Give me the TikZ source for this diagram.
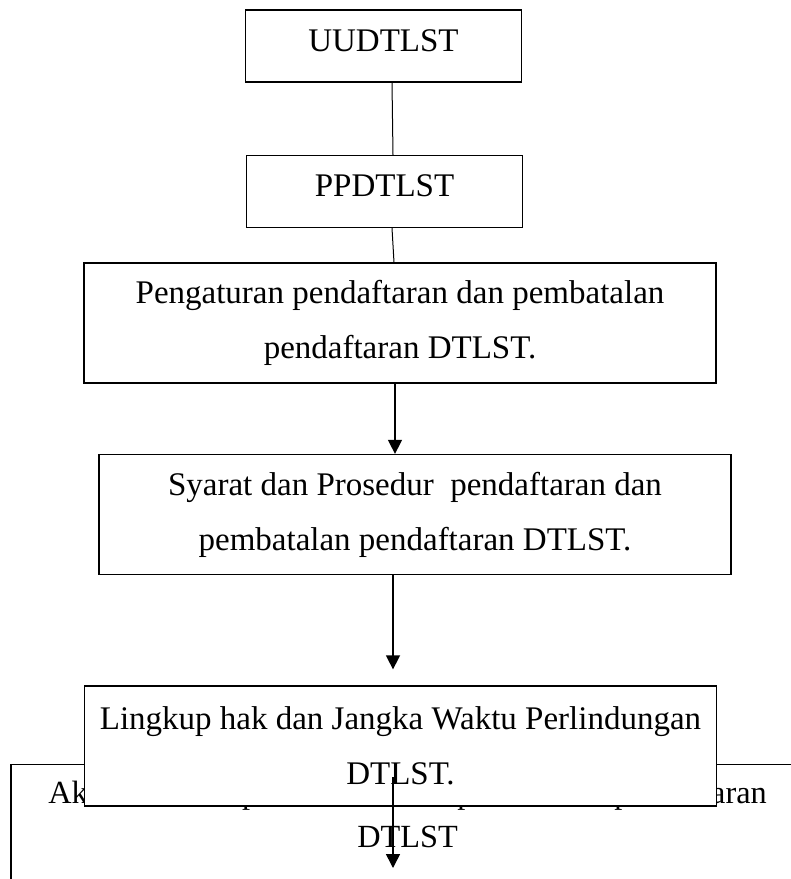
\documentclass[tikz,border=0pt]{standalone}
\usepackage{fontspec}
\setmainfont{Liberation Serif}
\usetikzlibrary{arrows.meta}

\begin{document}
\begin{tikzpicture}[x=1pt, y=-1pt,
        box_node/.style={rectangle, draw=black, fill=white, line width=1.3pt, align=center, font=\fontsize{33}{55}\selectfont},
        short_node/.style={box_node, minimum width=276pt, minimum height=72pt, text height=23pt, text depth=13pt},
        wide_node/.style={box_node, minimum width=632pt, minimum height=120pt},
        plain_line/.style={black, line width=1pt},
        arrow_line/.style={black, line width=1.5pt, -{Triangle[length=14pt, width=14pt]}}
        ]
            \useasboundingbox (0,0) rectangle (791,879);
            \clip (0,0) rectangle (791,879);

            % top boxes
            \node[short_node]    (uud)        at (383.5,46)    {UUDTLST};
            \node[short_node]    (ppd)        at (384.5,191.5) {PPDTLST};
            % middle boxes
            \node[wide_node]     (pengaturan) at (400,323)     {Pengaturan pendaftaran dan pembatalan\\pendaftaran DTLST.};
            \node[wide_node]     (syarat)     at (415,514.5)   {Syarat dan Prosedur\ \ pendaftaran dan\\pembatalan pendaftaran DTLST.};
            % bottom boxes (akibat lies behind lingkup)
            \node[box_node, anchor=north, minimum width=793pt, inner ysep=16pt, text depth=90pt,
                  font=\fontsize{32.3}{44}\selectfont]
                                 (akibat)     at (407.5,764)   {Akibat hukum pendaftaran dan pembatalan pendaftaran\\DTLST};
            \node[wide_node]     (lingkup)    at (400.5,746)   {Lingkup hak dan Jangka Waktu Perlindungan\\DTLST.};
            \coordinate (akibat_tip) at (393,868);

            % Lines
            \draw[plain_line] ([xshift=8.5pt]uud.south) -- ([xshift=8.5pt]ppd.north);
            \draw[plain_line] ([xshift=7.5pt]ppd.south) -- ([xshift=-6pt]pengaturan.north);
            \draw[arrow_line] ([xshift=-5pt]pengaturan.south) -- ([xshift=-20pt]syarat.north);
            \draw[arrow_line] ([xshift=-22pt]syarat.south) -- ([xshift=-7.5pt, yshift=16pt]lingkup.north);
            \draw[arrow_line] ([xshift=-7.5pt, yshift=-31pt]lingkup.center) -- (akibat_tip);
        \end{tikzpicture}
\end{document}
